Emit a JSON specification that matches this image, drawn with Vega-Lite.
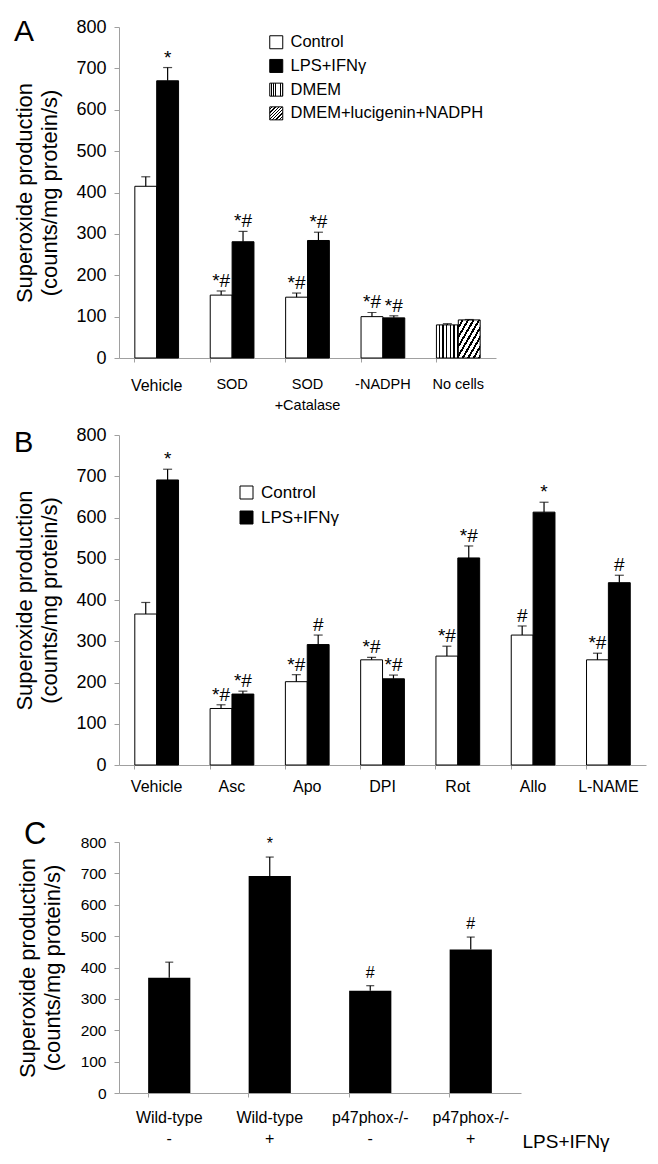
{
  "$schema": "https://vega.github.io/schema/vega-lite/v6.json",
  "background": "white",
  "padding": {"left": 13, "top": 17, "right": 5, "bottom": 5},
  "bounds": "flush",
  "spacing": 77,
  "resolve": {"scale": {"fill": "independent"}, "legend": {"fill": "independent"}},
  "config": {
    "view": {"stroke": null},
    "font": "Liberation Sans",
    "axis": {"domainColor": "#a0a0a0", "tickColor": "#a0a0a0", "grid": false, "labelColor": "black", "titleColor": "black", "titleFontWeight": "normal", "labelFont": "Liberation Sans", "titleFont": "Liberation Sans", "labelOverlap": false},
    "title": {"fontWeight": "normal", "color": "black", "font": "Liberation Sans"}
  },
  "vconcat": [
    {
      "width": 377,
      "height": 331,
      "title": {"text": "A", "anchor": "start", "frame": "group", "fontSize": 30, "dx": -105, "dy": 53, "offset": 0, "baseline": "alphabetic"},
      "data": {"values": [
        {"group": "Vehicle", "series": "Control", "mean": 415, "err": 23, "sig": ""},
        {"group": "Vehicle", "series": "LPS+IFNγ", "mean": 670, "err": 32, "sig": "*"},
        {"group": "SOD", "series": "Control", "mean": 152, "err": 10, "sig": "*#"},
        {"group": "SOD", "series": "LPS+IFNγ", "mean": 281, "err": 25, "sig": "*#"},
        {"group": "SOD+Catalase", "series": "Control", "mean": 147, "err": 10, "sig": "*#"},
        {"group": "SOD+Catalase", "series": "LPS+IFNγ", "mean": 284, "err": 20, "sig": "*#"},
        {"group": "-NADPH", "series": "Control", "mean": 100, "err": 10, "sig": "*#"},
        {"group": "-NADPH", "series": "LPS+IFNγ", "mean": 97, "err": 5, "sig": "*#"},
        {"group": "No cells", "series": "DMEM", "mean": 80, "err": 3, "sig": ""},
        {"group": "No cells", "series": "DMEM+lucigenin+NADPH", "mean": 92, "err": 1, "sig": ""}
      ]},
      "transform": [
        {"calculate": "datum.series == 'Control' || datum.series == 'DMEM' ? 'left' : 'right'", "as": "slot"},
        {"calculate": "datum.mean + datum.err", "as": "hi"}
      ],
      "encoding": {
        "x": {"field": "group", "type": "nominal", "sort": ["Vehicle", "SOD", "SOD+Catalase", "-NADPH", "No cells"],
          "scale": {"paddingInner": 0.42, "paddingOuter": 0.21},
          "axis": {"title": null, "labelAngle": 0, "bandPosition": 0, "tickSize": 4, "labelPadding": 15,
            "labelFontSize": {"condition": {"test": "datum.value == 'Vehicle'", "value": 16}, "value": 14.5},
            "labelExpr": "datum.value == 'SOD+Catalase' ? ['SOD', '+Catalase'] : datum.value", "labelLineHeight": 21}},
        "xOffset": {"field": "slot", "type": "nominal", "scale": {"domain": ["left", "right"], "paddingInner": 0, "paddingOuter": 0}}
      },
      "layer": [
        {
          "mark": {"type": "bar", "stroke": "black", "strokeWidth": 1},
          "encoding": {
            "y": {"field": "mean", "type": "quantitative", "scale": {"domain": [0, 800], "nice": false},
              "axis": {"title": ["Superoxide production", "(counts/mg protein/s)"], "titleFontSize": 22, "titleLineHeight": 25, "titlePadding": 14,
                "labelFontSize": 18, "labelPadding": 8, "tickSize": 5, "labelOverlap": false, "values": [0, 100, 200, 300, 400, 500, 600, 700, 800]}},
            "fill": {"field": "series", "type": "nominal",
              "scale": {"domain": ["Control", "LPS+IFNγ", "DMEM", "DMEM+lucigenin+NADPH"],
                "range": ["#ffffff", "#000000",
                  {"expr": "{gradient: 'linear', x1: 0, y1: 0, x2: 1, y2: 0, stops: [{offset: 0, color: '#fff'}, {offset: 0.1, color: '#fff'}, {offset: 0.1, color: '#000'}, {offset: 0.1667, color: '#000'}, {offset: 0.1667, color: '#fff'}, {offset: 0.2667, color: '#fff'}, {offset: 0.2667, color: '#000'}, {offset: 0.3333, color: '#000'}, {offset: 0.3333, color: '#fff'}, {offset: 0.4333, color: '#fff'}, {offset: 0.4333, color: '#000'}, {offset: 0.5, color: '#000'}, {offset: 0.5, color: '#fff'}, {offset: 0.6, color: '#fff'}, {offset: 0.6, color: '#000'}, {offset: 0.6667, color: '#000'}, {offset: 0.6667, color: '#fff'}, {offset: 0.7667, color: '#fff'}, {offset: 0.7667, color: '#000'}, {offset: 0.8333, color: '#000'}, {offset: 0.8333, color: '#fff'}, {offset: 0.9333, color: '#fff'}, {offset: 0.9333, color: '#000'}, {offset: 1, color: '#000'}]}"},
                  {"expr": "{gradient: 'linear', x1: 0, y1: 0, x2: 1, y2: 1, stops: [{offset: 0, color: '#fff'}, {offset: 0.075, color: '#fff'}, {offset: 0.075, color: '#000'}, {offset: 0.125, color: '#000'}, {offset: 0.125, color: '#fff'}, {offset: 0.2, color: '#fff'}, {offset: 0.2, color: '#000'}, {offset: 0.25, color: '#000'}, {offset: 0.25, color: '#fff'}, {offset: 0.325, color: '#fff'}, {offset: 0.325, color: '#000'}, {offset: 0.375, color: '#000'}, {offset: 0.375, color: '#fff'}, {offset: 0.45, color: '#fff'}, {offset: 0.45, color: '#000'}, {offset: 0.5, color: '#000'}, {offset: 0.5, color: '#fff'}, {offset: 0.575, color: '#fff'}, {offset: 0.575, color: '#000'}, {offset: 0.625, color: '#000'}, {offset: 0.625, color: '#fff'}, {offset: 0.7, color: '#fff'}, {offset: 0.7, color: '#000'}, {offset: 0.75, color: '#000'}, {offset: 0.75, color: '#fff'}, {offset: 0.825, color: '#fff'}, {offset: 0.825, color: '#000'}, {offset: 0.875, color: '#000'}, {offset: 0.875, color: '#fff'}, {offset: 0.95, color: '#fff'}, {offset: 0.95, color: '#000'}, {offset: 1, color: '#000'}]}"}
                ]},
              "legend": {"orient": "none", "legendX": 149, "legendY": 7, "title": null, "symbolType": "square", "symbolSize": 169,
                "symbolStrokeColor": "black", "symbolStrokeWidth": 1, "symbolOpacity": 1, "labelFontSize": 16.5, "labelFont": "Liberation Sans",
                "rowPadding": 5.7, "padding": 0, "labelOffset": 6, "labelColor": "black", "labelLimit": 0}}
          }
        },
        {
          "mark": {"type": "rule", "color": "black", "strokeWidth": 1.2},
          "encoding": {"y": {"field": "mean", "type": "quantitative"}, "y2": {"field": "hi"}}
        },
        {
          "mark": {"type": "tick", "color": "black", "thickness": 1.2, "size": 9},
          "encoding": {"y": {"field": "hi", "type": "quantitative"}}
        },
        {
          "mark": {"type": "text", "baseline": "alphabetic", "dy": -4, "fontSize": 19, "color": "black"},
          "encoding": {"y": {"field": "hi", "type": "quantitative"}, "text": {"field": "sig"}}
        }
      ]
    },
    {
      "width": 527,
      "height": 330,
      "title": {"text": "B", "anchor": "start", "frame": "group", "fontSize": 29, "dx": -105, "dy": 55, "offset": 0, "baseline": "alphabetic"},
      "data": {"values": [
        {"group": "Vehicle", "series": "Control", "mean": 366, "err": 28, "sig": ""},
        {"group": "Vehicle", "series": "LPS+IFNγ", "mean": 691, "err": 26, "sig": "*"},
        {"group": "Asc", "series": "Control", "mean": 137, "err": 9, "sig": "*#"},
        {"group": "Asc", "series": "LPS+IFNγ", "mean": 172, "err": 7, "sig": "*#"},
        {"group": "Apo", "series": "Control", "mean": 202, "err": 17, "sig": "*#"},
        {"group": "Apo", "series": "LPS+IFNγ", "mean": 292, "err": 23, "sig": "#"},
        {"group": "DPI", "series": "Control", "mean": 255, "err": 6, "sig": "*#"},
        {"group": "DPI", "series": "LPS+IFNγ", "mean": 209, "err": 9, "sig": "*#"},
        {"group": "Rot", "series": "Control", "mean": 264, "err": 24, "sig": "*#"},
        {"group": "Rot", "series": "LPS+IFNγ", "mean": 502, "err": 29, "sig": "*#"},
        {"group": "Allo", "series": "Control", "mean": 315, "err": 22, "sig": "#"},
        {"group": "Allo", "series": "LPS+IFNγ", "mean": 613, "err": 24, "sig": "*"},
        {"group": "L-NAME", "series": "Control", "mean": 255, "err": 16, "sig": "*#"},
        {"group": "L-NAME", "series": "LPS+IFNγ", "mean": 442, "err": 18, "sig": "#"}
      ]},
      "transform": [
        {"calculate": "datum.series == 'Control' ? 'left' : 'right'", "as": "slot"},
        {"calculate": "datum.mean + datum.err", "as": "hi"}
      ],
      "encoding": {
        "x": {"field": "group", "type": "nominal", "sort": ["Vehicle", "Asc", "Apo", "DPI", "Rot", "Allo", "L-NAME"],
          "scale": {"paddingInner": 0.42, "paddingOuter": 0.21},
          "axis": {"title": null, "labelAngle": 0, "bandPosition": 0, "tickSize": 4, "labelPadding": 9, "labelFontSize": 16}},
        "xOffset": {"field": "slot", "type": "nominal", "scale": {"domain": ["left", "right"], "paddingInner": 0, "paddingOuter": 0}}
      },
      "layer": [
        {
          "mark": {"type": "bar", "stroke": "black", "strokeWidth": 1},
          "encoding": {
            "y": {"field": "mean", "type": "quantitative", "scale": {"domain": [0, 800], "nice": false},
              "axis": {"title": ["Superoxide production", "(counts/mg protein/s)"], "titleFontSize": 22, "titleLineHeight": 25, "titlePadding": 14,
                "labelFontSize": 18, "labelPadding": 8, "tickSize": 5, "labelOverlap": false, "values": [0, 100, 200, 300, 400, 500, 600, 700, 800]}},
            "fill": {"field": "series", "type": "nominal",
              "scale": {"domain": ["Control", "LPS+IFNγ"], "range": ["#ffffff", "#000000"]},
              "legend": {"orient": "none", "legendX": 119, "legendY": 49, "title": null, "symbolType": "square", "symbolSize": 169,
                "symbolStrokeColor": "black", "symbolStrokeWidth": 1, "symbolOpacity": 1, "labelFontSize": 17, "labelFont": "Liberation Sans",
                "rowPadding": 7, "padding": 0, "labelOffset": 6, "labelColor": "black", "labelLimit": 0}}
          }
        },
        {
          "mark": {"type": "rule", "color": "black", "strokeWidth": 1.2},
          "encoding": {"y": {"field": "mean", "type": "quantitative"}, "y2": {"field": "hi"}}
        },
        {
          "mark": {"type": "tick", "color": "black", "thickness": 1.2, "size": 9},
          "encoding": {"y": {"field": "hi", "type": "quantitative"}}
        },
        {
          "mark": {"type": "text", "baseline": "alphabetic", "dy": -4, "fontSize": 19, "color": "black"},
          "encoding": {"y": {"field": "hi", "type": "quantitative"}, "text": {"field": "sig"}}
        }
      ]
    },
    {
      "width": 402,
      "height": 251,
      "title": {"text": "C", "anchor": "start", "frame": "group", "fontSize": 31, "dx": -95, "dy": 40, "offset": 0, "baseline": "alphabetic"},
      "data": {"values": [
        {"genotype": "Wild-type", "lps": "-", "mean": 367, "err": 50, "sig": ""},
        {"genotype": "Wild-type", "lps": "+", "mean": 692, "err": 60, "sig": "*"},
        {"genotype": "p47phox-/-", "lps": "-", "mean": 326, "err": 16, "sig": "#"},
        {"genotype": "p47phox-/-", "lps": "+", "mean": 457, "err": 40, "sig": "#"}
      ]},
      "transform": [
        {"calculate": "datum.genotype + ' ' + datum.lps", "as": "cond"},
        {"calculate": "datum.mean + datum.err", "as": "hi"}
      ],
      "encoding": {
        "x": {"field": "cond", "type": "nominal", "sort": ["Wild-type -", "Wild-type +", "p47phox-/- -", "p47phox-/- +"],
          "scale": {"paddingInner": 0.58, "paddingOuter": 0.29},
          "axis": {"title": "LPS+IFNγ", "titleFontSize": 19, "titleX": 403, "titleY": 48, "titleAlign": "left", "titleBaseline": "middle", "titleAngle": 0,
            "labelAngle": 0, "bandPosition": 0, "tickSize": 4, "labelPadding": 12, "labelFontSize": 16,
            "labelExpr": "split(datum.value, ' ')", "labelLineHeight": 21}}
      },
      "layer": [
        {
          "mark": {"type": "bar", "fill": "black"},
          "encoding": {
            "y": {"field": "mean", "type": "quantitative", "scale": {"domain": [0, 800], "nice": false},
              "axis": {"title": ["Superoxide production", "(counts/mg protein/s)"], "titleFontSize": 22, "titleLineHeight": 25, "titlePadding": 16,
                "labelFontSize": 15.5, "labelPadding": 8, "tickSize": 5, "labelOverlap": false, "tickCount": 9, "values": [0, 100, 200, 300, 400, 500, 600, 700, 800]}}
          }
        },
        {
          "mark": {"type": "rule", "color": "black", "strokeWidth": 1.2},
          "encoding": {"y": {"field": "mean", "type": "quantitative", "axis": {"values": [0, 100, 200, 300, 400, 500, 600, 700, 800], "labelOverlap": false}}, "y2": {"field": "hi"}}
        },
        {
          "mark": {"type": "tick", "color": "black", "thickness": 1.2, "size": 8},
          "encoding": {"y": {"field": "hi", "type": "quantitative", "axis": {"values": [0, 100, 200, 300, 400, 500, 600, 700, 800], "labelOverlap": false}}}
        },
        {
          "mark": {"type": "text", "baseline": "alphabetic", "dy": -8, "fontSize": 16, "color": "black"},
          "encoding": {"y": {"field": "hi", "type": "quantitative", "axis": {"values": [0, 100, 200, 300, 400, 500, 600, 700, 800], "labelOverlap": false}}, "text": {"field": "sig"}}
        }
      ]
    }
  ]
}
